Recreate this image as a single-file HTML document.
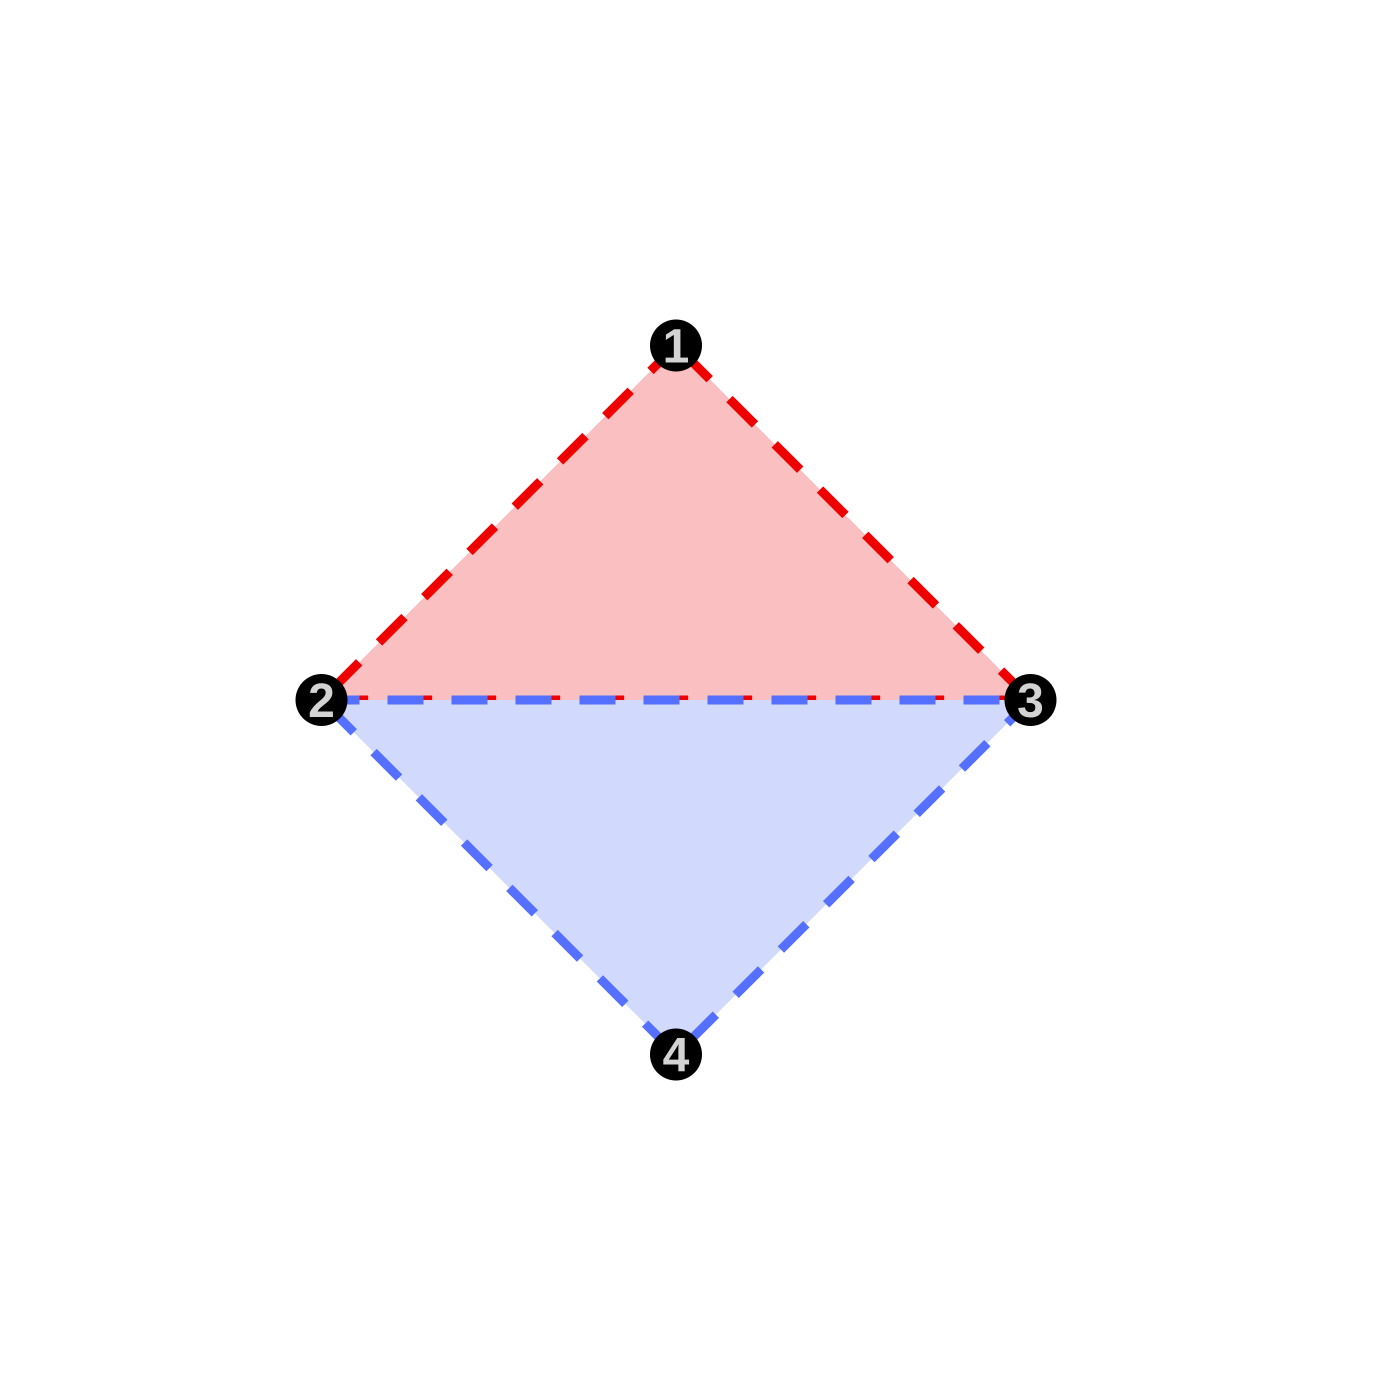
<!DOCTYPE html>
<html><head><meta charset="utf-8"><style>body{margin:0;background:#fff}svg{display:block}</style></head>
<body>
<svg width="1400" height="1400" viewBox="0 0 1400 1400">
<g id="g"></g>
</svg>
<script>
const labels=["1","2","3","4"];
const xs=[0,-1,1,0];
const ys=[1,0,0,-1];
const tris=[[0,1,2],[1,2,3]];
const triNames=["upper-red-triangle","lower-blue-triangle"];
const cx=676,cy=700,s=354.5;
const X=v=>cx+v*s, Y=v=>cy-v*s;
const fills=["#f9bfc1","#d1d9fd"],strokes=["#ee0000","#5570ff"];
const g=document.getElementById('g');
const NS="http://www.w3.org/2000/svg";
tris.forEach((t,i)=>{
  const p=document.createElementNS(NS,'polygon');
  
  
  p.setAttribute('points',t.map(k=>X(xs[k])+','+Y(ys[k])).join(' '));
  p.setAttribute('fill',fills[i]);
  p.setAttribute('stroke',strokes[i]);
  p.setAttribute('stroke-width','9');
  p.setAttribute('stroke-dasharray','36 28');
  p.setAttribute('stroke-dashoffset', i==0?'0':'-2');
  g.appendChild(p);
});
labels.forEach((l,i)=>{
  const c=document.createElementNS(NS,'circle');
  
  
  c.setAttribute('cx',X(xs[i]));c.setAttribute('cy',Y(ys[i]));c.setAttribute('r','26');c.setAttribute('fill','#000');
  g.appendChild(c);
  const t=document.createElementNS(NS,'text');
  
  
  t.setAttribute('x',X(xs[i]));t.setAttribute('y',Y(ys[i])+17);
  t.setAttribute('text-anchor','middle');t.setAttribute('font-family','Liberation Sans, sans-serif');
  t.setAttribute('font-weight','bold');t.setAttribute('font-size','48');t.setAttribute('fill','#d3d3d3');
  t.textContent=l;
  g.appendChild(t);
});
</script>
</body></html>
